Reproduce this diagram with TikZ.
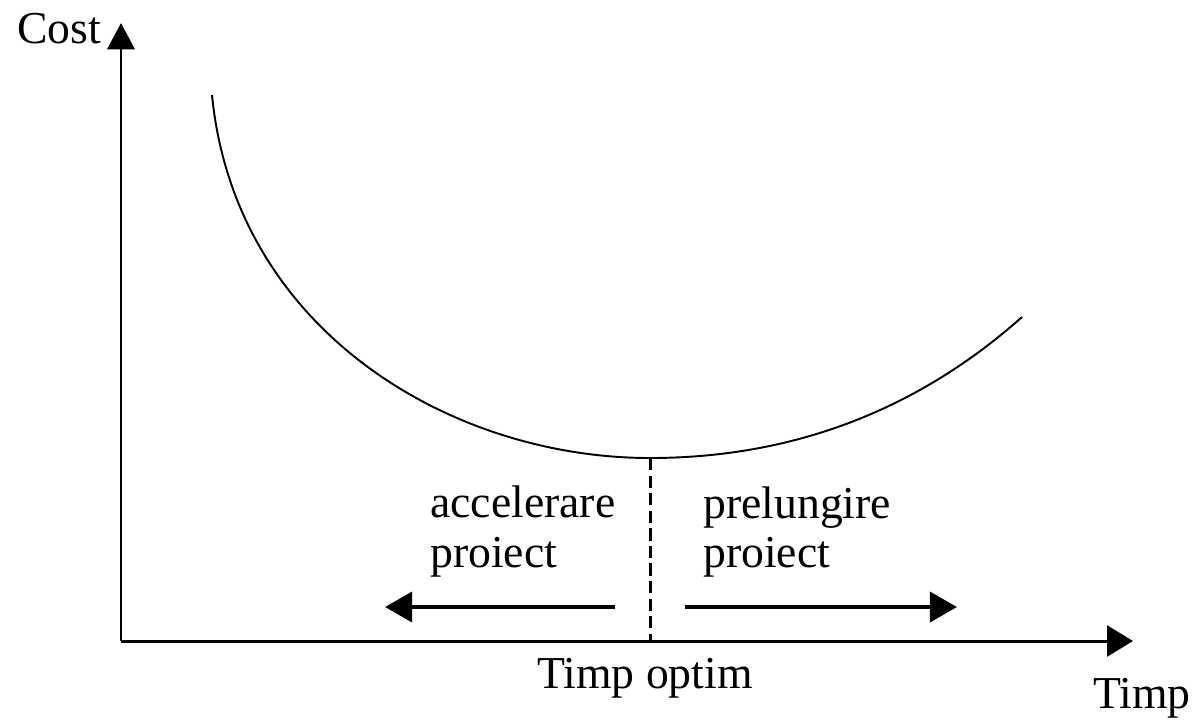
\documentclass[tikz,border=0pt]{standalone}
\usepackage{fontspec}
\setmainfont{Liberation Serif}
\usetikzlibrary{arrows.meta}
\begin{document}
\begin{tikzpicture}[x=0.02cm,y=-0.02cm,
  lbl/.style={anchor=base west,inner sep=0pt,font=\fontsize{26}{30}\selectfont},
  axisline/.style={line width=1.7pt},
  dirarrow/.style={line width=2.6pt,-{Triangle[length=15.5pt,width=17pt]}},
  curveline/.style={line width=1.1pt}]
\useasboundingbox (0,0) rectangle (1192,721);
\coordinate (O) at (121,641);
\coordinate (ytip) at (121,23);
\coordinate (xtip) at (1133,641);
\coordinate (cs) at (212,95);
\coordinate (m) at (650,458);
\coordinate (ce) at (1022,317);
\coordinate (mb) at (650,641);
\coordinate (la) at (615,607);
\coordinate (lb) at (385,607);
\coordinate (ra) at (685,607);
\coordinate (rb) at (957,607);
% axes
\draw[axisline,-{Triangle[length=15pt,width=15.5pt]}] (O) -- (ytip);
\draw[axisline,-{Triangle[length=14.7pt,width=17.5pt]}] (O) -- (xtip);
% curve
\draw[curveline] (cs) .. controls (235,330) and (450,458) .. (m)
  .. controls (820,458) and (940,390) .. (ce);
% dashed line
\draw[line width=1.7pt,dash pattern=on 7pt off 3pt] (m) -- (mb);
% direction arrows
\draw[dirarrow] (la) -- (lb);
\draw[dirarrow] (ra) -- (rb);
% labels
\node[lbl] (cost) at (17,43) {Cost};
\node[lbl] (timp) at (1093,708) {Timp};
\node[lbl] (topt) at (537,688) {Timp optim};
\node[lbl] (acc) at (430,517) {accelerare};
\node[lbl] (pl) at (430,567) {proiect};
\node[lbl] (prel) at (703,518) {prelungire};
\node[lbl] (pr) at (703,567) {proiect};
\end{tikzpicture}
\end{document}
